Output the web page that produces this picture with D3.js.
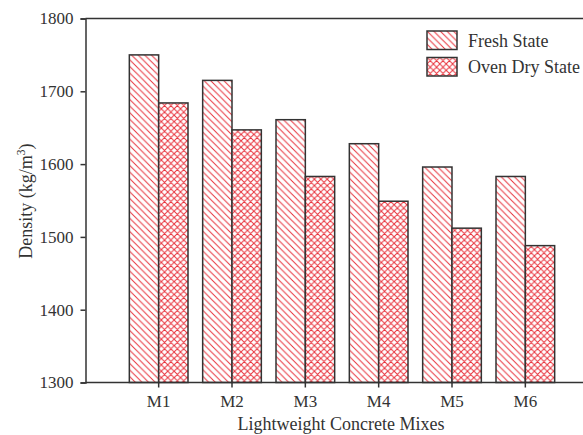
<!DOCTYPE html>
<html>
<head>
<meta charset="utf-8">
<script src="https://cdnjs.cloudflare.com/ajax/libs/d3/7.8.5/d3.min.js"></script>
<style>
  html, body { margin: 0; padding: 0; background: #fff; }
  svg { display: block; }
  text { font-family: "Liberation Serif", "DejaVu Serif", serif; fill: #333; }
</style>
</head>
<body>
<svg id="chart" width="583" height="435"></svg>
<script>
// Density of lightweight concrete mixes
const mixes = ["M1", "M2", "M3", "M4", "M5", "M6"];
const freshState = [1750, 1715, 1661, 1628, 1596, 1583];
const ovenDryState = [1684, 1647, 1583, 1549, 1512, 1488];
const seriesNames = ["Fresh State", "Oven Dry State"];
const yTicks = [1300, 1400, 1500, 1600, 1700, 1800];

const svg = d3.select("#chart");
const red = "#e8323c";
const ink = "#333";
const serif = "Liberation Serif, DejaVu Serif, serif";

const plot = { left: 85.5, right: 583, top: 18.5, bottom: 382.5 };

const x = d3.scaleBand().domain(mixes).range([122, 562]).paddingInner(0.2).paddingOuter(0.1);
const xs = d3.scaleBand().domain(seriesNames).range([0, x.bandwidth()]);
const y = d3.scaleLinear().domain([1300, 1800]).range([plot.bottom, plot.top]);

// hatch patterns: single diagonal and diagonal cross-hatch
function hatch(id, s, crossed) {
  const h = s / 2;
  let d = `M${-h},${h} L${h},${s + h} M0,0 L${s},${s} M${h},${-h} L${s + h},${h}`;
  if (crossed) d += ` M${-h},${h} L${h},${-h} M0,${s} L${s},0 M${h},${s + h} L${s + h},${h}`;
  const p = svg.select("defs").append("pattern").attr("id", id)
    .attr("patternUnits", "userSpaceOnUse").attr("width", s).attr("height", s);
  p.append("rect").attr("width", s).attr("height", s).attr("fill", "#fff");
  p.append("path").attr("d", d).attr("stroke", red).attr("stroke-width", 1).attr("fill", "none");
}
svg.append("defs");
hatch("diag", 6.6, false);
hatch("cross", 6.4, true);

const fills = { "Fresh State": "url(#diag)", "Oven Dry State": "url(#cross)" };

// bars
const rows = mixes.map((m, i) => ({ mix: m, values: [
  { key: "Fresh State", value: freshState[i] },
  { key: "Oven Dry State", value: ovenDryState[i] }
]}));

const groups = svg.append("g").selectAll("g").data(rows).join("g")
  .attr("transform", d => `translate(${x(d.mix)},0)`);
groups.selectAll("rect").data(d => d.values).join("rect")
  .attr("x", d => xs(d.key))
  .attr("y", d => y(d.value))
  .attr("width", xs.bandwidth())
  .attr("height", d => y(1300) - y(d.value))
  .attr("fill", d => fills[d.key])
  .attr("stroke", ink).attr("stroke-width", 1.5);

// top frame line
svg.append("line").attr("x1", plot.left).attr("x2", plot.right).attr("y1", plot.top).attr("y2", plot.top)
  .attr("stroke", ink).attr("stroke-width", 1.5);

// y axis
const yAxis = svg.append("g").attr("transform", `translate(${plot.left},0)`)
  .call(d3.axisLeft(y).tickValues(yTicks).tickSize(5).tickPadding(7).tickFormat(d3.format("d")));
yAxis.select(".domain").attr("stroke", ink).attr("stroke-width", 1.5);
yAxis.selectAll(".tick line").attr("stroke", ink).attr("stroke-width", 1.5);
yAxis.selectAll("text").attr("font-size", 17).attr("fill", ink).style("font-family", serif);

// x axis
const xAxis = svg.append("g").attr("transform", `translate(0,${plot.bottom})`)
  .call(d3.axisBottom(x).tickSize(5).tickPadding(7).tickSizeOuter(0));
xAxis.select(".domain").attr("d", `M${plot.left},0H${plot.right}`).attr("stroke", ink).attr("stroke-width", 1.5);
xAxis.selectAll(".tick line").attr("stroke", ink).attr("stroke-width", 1.5);
xAxis.selectAll("text").attr("font-size", 17).attr("fill", ink).style("font-family", serif);

// axis titles
svg.append("text").attr("x", 341).attr("y", 430).attr("text-anchor", "middle")
  .attr("font-size", 18).text("Lightweight Concrete Mixes");

const yt = svg.append("text").attr("transform", "translate(32,201) rotate(-90)")
  .attr("text-anchor", "middle").attr("font-size", 18);
yt.append("tspan").text("Density (kg/m");
yt.append("tspan").attr("font-size", 11.5).attr("dy", -7).text("3");
yt.append("tspan").attr("dy", 7).text(")");

// legend
const legend = svg.append("g").selectAll("g").data(seriesNames).join("g")
  .attr("transform", (d, i) => `translate(427,${31 + i * 26.5})`);
legend.append("rect").attr("width", 30).attr("height", 18.5)
  .attr("fill", d => fills[d]).attr("stroke", ink).attr("stroke-width", 1.5);
legend.append("text").attr("x", 41).attr("y", 15.5).attr("font-size", 18).text(d => d);
</script>
</body>
</html>
